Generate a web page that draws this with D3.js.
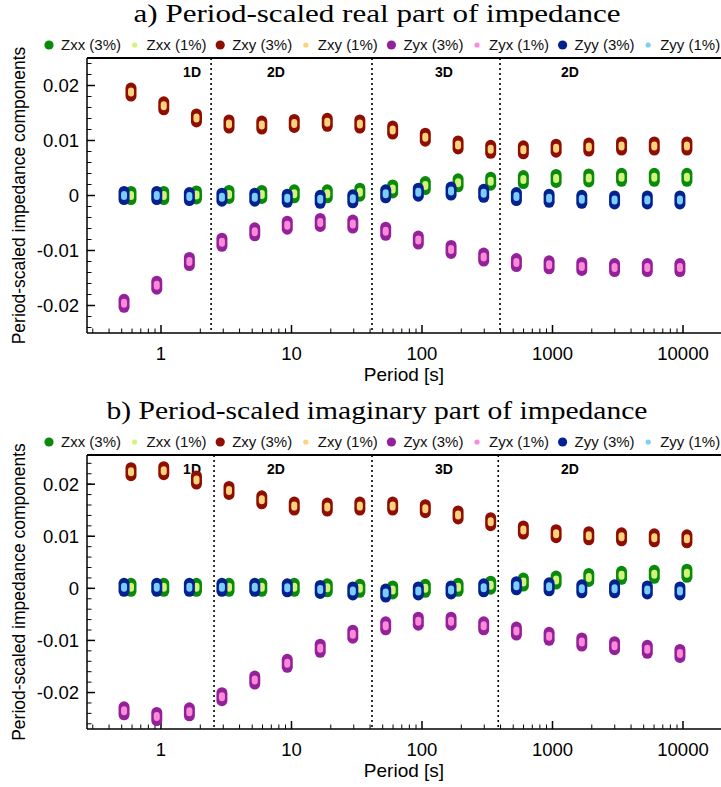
<!DOCTYPE html>
<html><head><meta charset="utf-8">
<script src="https://cdn.jsdelivr.net/npm/d3@7"></script>
<style>body{margin:0;background:#fff}svg{display:block}</style>
</head><body>
<script>
// ---------- DATA ----------
const periodsX = [0.589,1.05,1.87,3.32,5.92,10.5,18.8,33.4,59.6,106,189,336,598,1066,1897,3381,6026,10715];
const periodsY = [0.521,0.928,1.65,2.93,5.23,9.28,16.6,29.5,52.7,93.7,167,297,529,942,1677,2989,5327,9472];

const seriesNames = ["Zxx","Zxy","Zyx","Zyy"];
const legendLabels = ["Zxx (3%)","Zxx (1%)","Zxy (3%)","Zxy (1%)","Zyx (3%)","Zyx (1%)","Zyy (3%)","Zyy (1%)"];
const darkColors = ["#0a8a0a","#8e0e02","#95219a","#03228f"];
const lightColors = ["#d2f47c","#fdd27c","#fb8ad8","#7ccdfa"];

// panel a (real part)
const aZxx = [0.0000,0.0000,0.0001,0.0002,0.0002,0.0003,0.0003,0.0006,0.0012,0.0018,0.0023,0.0026,0.0029,0.0031,0.0032,0.0033,0.0033,0.0033];
const aZxy = [0.0188,0.0163,0.0141,0.0130,0.0128,0.0131,0.0133,0.0130,0.0119,0.0106,0.0092,0.0084,0.0083,0.0086,0.0088,0.0090,0.0090,0.0090];
const aZyx = [-0.0196,-0.0163,-0.0120,-0.0085,-0.0066,-0.0054,-0.0049,-0.0052,-0.0065,-0.0081,-0.0098,-0.0112,-0.0122,-0.0126,-0.0129,-0.0131,-0.0131,-0.0131];
const aZyy = [0.0000,0.0000,-0.0002,-0.0003,-0.0003,-0.0005,-0.0007,-0.0006,0.0003,0.0006,0.0008,0.0004,-0.0002,-0.0005,-0.0007,-0.0008,-0.0008,-0.0008];

// panel b (imaginary part)
const bZxx = [0.0002,0.0002,0.0002,0.0002,0.0002,0.0002,0.0001,0.0000,-0.0003,0.0000,0.0002,0.0006,0.0012,0.0016,0.0021,0.0025,0.0027,0.0029];
const bZxy = [0.0224,0.0226,0.0208,0.0188,0.0170,0.0158,0.0156,0.0158,0.0158,0.0153,0.0141,0.0128,0.0112,0.0105,0.0101,0.0099,0.0097,0.0095];
const bZyx = [-0.0235,-0.0246,-0.0237,-0.0208,-0.0176,-0.0144,-0.0115,-0.0088,-0.0072,-0.0063,-0.0063,-0.0072,-0.0082,-0.0092,-0.0103,-0.0110,-0.0117,-0.0125];
const bZyy = [0.0002,0.0002,0.0002,0.0002,0.0002,0.0001,-0.0002,-0.0005,-0.0009,-0.0005,-0.0003,0.0001,0.0005,0.0003,-0.0001,-0.0001,-0.0003,-0.0005];

const xTickValues = [1,10,100,1000,10000];
const xTickLabels = ["1","10","100","1000","10000"];
const yTickValues = [0.02,0.01,0,-0.01,-0.02];
const yTickLabels = ["0.02","0.01","0","-0.01","-0.02"];

const regionLabels = ["1D","2D","3D","2D"];
const aBoundaries = [2.42,41.4,396];
const bBoundaries = [2.55,41.4,384];
const regionLabelPeriods = [1.73,7.6,147,1361];

const titles = ["a) Period-scaled real part of impedance","b) Period-scaled imaginary part of impedance"];
const yAxisTitle = "Period-scaled impedance components";
const xAxisTitle = "Period [s]";

// ---------- LAYOUT ----------
const W = 721, H = 787;
const svg = d3.select("body").append("svg").attr("width",W).attr("height",H)
  .style("font-family","'Liberation Sans', Arial, Helvetica, sans-serif");

const panels = [
  {title:titles[0], tlen:487, top:58, bottom:333, yDomain:[-0.025,0.025], data:[aZxx,aZxy,aZyx,aZyy], bounds:aBoundaries},
  {title:titles[1], tlen:541, top:455, bottom:729, yDomain:[-0.027,0.0256], data:[bZxx,bZxy,bZyx,bZyy], bounds:bBoundaries}
];
const left = 87, right = 722;

panels.forEach(p => {
  const g = svg.append("g");
  const x = d3.scaleLog().domain([0.271,19900]).range([left,right]);
  const y = d3.scaleLinear().domain(p.yDomain).range([p.bottom,p.top]);

  // title
  g.append("text").attr("x",377).attr("y",p.top-36)
    .attr("text-anchor","middle").style("font-family","'Liberation Serif', 'Times New Roman', serif")
    .style("font-size","25px").attr("textLength",p.tlen).attr("lengthAdjust","spacingAndGlyphs").text(p.title);

  // legend
  legendLabels.forEach((lab,i) => {
    const s = Math.floor(i/2), isLight = i%2===1;
    const lx = 49 + i*85.6;
    const ly = p.top-13;
    g.append("circle").attr("cx",lx).attr("cy",ly).attr("r",isLight?2.6:4.6)
      .attr("fill",isLight?lightColors[s]:darkColors[s]);
    g.append("text").attr("x",lx+12).attr("y",ly+5).style("font-size","15px").attr("fill","#111").text(lab);
  });

  // minor / major ticks
  const minorX = [];
  for (let e=-1;e<=4;e++) for (let m=2;m<=9;m++){ const v=m*Math.pow(10,e); if (v>0.271 && v<19900) minorX.push(v); }
  g.selectAll(".mx").data(minorX).join("line")
    .attr("x1",d=>x(d)).attr("x2",d=>x(d)).attr("y1",p.bottom).attr("y2",p.bottom-4.5)
    .attr("stroke","#000").attr("stroke-width",1);
  g.selectAll(".Mx").data(xTickValues).join("line")
    .attr("x1",d=>x(d)).attr("x2",d=>x(d)).attr("y1",p.bottom).attr("y2",p.bottom-8)
    .attr("stroke","#000").attr("stroke-width",1.5);
  g.selectAll(".xl").data(xTickValues).join("text")
    .attr("x",d=>x(d)).attr("y",p.bottom+27).attr("text-anchor","middle")
    .style("font-size","18.5px").text((d,i)=>xTickLabels[i]);

  const minorY = d3.range(-13,14).map(k=>k*0.002).filter(v=>v>p.yDomain[0]&&v<p.yDomain[1]);
  g.selectAll(".my").data(minorY).join("line")
    .attr("x1",left).attr("x2",left+4.5).attr("y1",d=>y(d)).attr("y2",d=>y(d))
    .attr("stroke","#000").attr("stroke-width",1);
  g.selectAll(".My").data(yTickValues).join("line")
    .attr("x1",left).attr("x2",left+8).attr("y1",d=>y(d)).attr("y2",d=>y(d))
    .attr("stroke","#000").attr("stroke-width",1.5);
  g.selectAll(".yl").data(yTickValues).join("text")
    .attr("x",left-8).attr("y",d=>y(d)+6.5).attr("text-anchor","end")
    .style("font-size","18.5px").text((d,i)=>yTickLabels[i]);

  // frame
  g.append("line").attr("x1",left).attr("x2",right).attr("y1",p.top).attr("y2",p.top).attr("stroke","#000").attr("stroke-width",2);
  g.append("line").attr("x1",left).attr("x2",right).attr("y1",p.bottom).attr("y2",p.bottom).attr("stroke","#000").attr("stroke-width",1.5);
  g.append("line").attr("x1",left).attr("x2",left).attr("y1",p.top).attr("y2",p.bottom).attr("stroke","#000").attr("stroke-width",1.5);

  // axis titles
  g.append("text").attr("transform",`translate(25,${(p.top+p.bottom)/2}) rotate(-90)`)
    .attr("text-anchor","middle").style("font-size","17.5px").text(yAxisTitle);
  g.append("text").attr("x",404).attr("y",p.bottom+48).attr("text-anchor","middle")
    .style("font-size","19px").text(xAxisTitle);

  // region boundaries
  g.selectAll(".bd").data(p.bounds).join("line")
    .attr("x1",d=>x(d)).attr("x2",d=>x(d)).attr("y1",p.top).attr("y2",p.bottom)
    .attr("stroke","#000").attr("stroke-width",1.6).attr("stroke-dasharray","2,3");
  g.selectAll(".rl").data(regionLabels).join("text")
    .attr("x",(d,i)=>x(regionLabelPeriods[i])).attr("y",p.top+19).attr("text-anchor","middle")
    .style("font-size","14px").style("font-weight","bold").text(d=>d);

  // markers
  p.data.forEach((vals,s) => {
    const per = (s<2)?periodsX:periodsY;
    g.selectAll(null).data(vals).join("rect")
      .attr("x",(d,i)=>x(per[i])-5.5).attr("y",d=>y(d)-9.5).attr("width",11).attr("height",19)
      .attr("rx",5.5).attr("fill",darkColors[s]);
    g.selectAll(null).data(vals).join("rect")
      .attr("x",(d,i)=>x(per[i])-3).attr("y",d=>y(d)-4.5).attr("width",6).attr("height",9)
      .attr("rx",3).attr("fill",lightColors[s]);
  });
});
</script>
</body></html>
